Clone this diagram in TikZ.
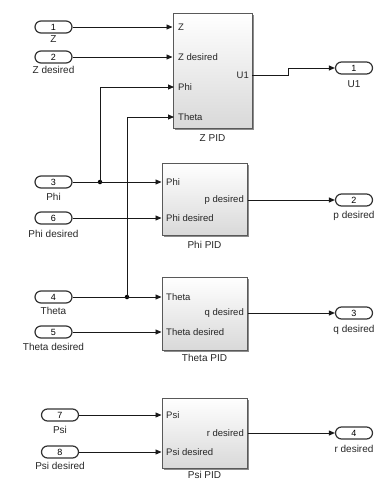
\documentclass[tikz,border=0pt]{standalone}
\usepackage{fontspec}
\setmainfont{Liberation Sans}
\usetikzlibrary{arrows.meta}
\begin{document}
\begin{tikzpicture}[x=1pt,y=-1pt,
  port/.style={draw=black!80, line width=1.2pt, rounded corners=6pt, minimum width=37pt, minimum height=12pt, inner sep=0pt, font=\fontsize{9}{9}\selectfont, fill=white},
  lbl/.style={font=\fontsize{10}{10}\selectfont, inner sep=0pt, anchor=north, text=black!85},
  plbl/.style={font=\fontsize{9.5}{10}\selectfont, inner sep=0pt, text=black!85},
  blk/.style={draw=black!65, line width=1pt, top color=white, bottom color=black!15, inner sep=0pt},
  sh/.style={fill=black!45, draw=none},
  arr/.style={draw=black!90, line width=0.9pt, -{Triangle[length=6pt,width=5pt]}},
  dot/.style={circle, fill=black, inner sep=0pt, minimum size=4.5pt}
]
\useasboundingbox (0,0) rectangle (380,480);

% blocks (shadows then bodies)
\fill[sh] (175,15) rectangle (254,130);
\fill[sh] (164,165) rectangle (249,237);
\fill[sh] (164,279) rectangle (249,352);
\fill[sh] (164,400) rectangle (249,470);
\node[blk, minimum width=79pt, minimum height=115pt] (zpid) at (212.5,70.5) {};
\node[blk, minimum width=85pt, minimum height=72pt] (phipid) at (204.5,199) {};
\node[blk, minimum width=85pt, minimum height=73pt] (thetapid) at (204.5,313.5) {};
\node[blk, minimum width=85pt, minimum height=70pt] (psipid) at (204.5,433) {};

\node[lbl] at (212.5,134) {Z PID};
\node[lbl] at (204.5,241) {Phi PID};
\node[lbl] at (204.5,354) {Theta PID};
\node[lbl, anchor=base] at (204.5,478.5) {Psi PID};

% port labels inside blocks
\node[plbl, anchor=west] at (178,27) {Z};
\node[plbl, anchor=west] at (178,57) {Z desired};
\node[plbl, anchor=west] at (178,87) {Phi};
\node[plbl, anchor=west] at (178,117) {Theta};
\node[plbl, anchor=east] at (249,75) {U1};
\node[plbl, anchor=west] at (166,182) {Phi};
\node[plbl, anchor=west] at (166,218) {Phi desired};
\node[plbl, anchor=east] at (244,200) {p desired};
\node[plbl, anchor=west] at (166,297) {Theta};
\node[plbl, anchor=west] at (166,332) {Theta desired};
\node[plbl, anchor=east] at (244,313) {q desired};
\node[plbl, anchor=west] at (166,415) {Psi};
\node[plbl, anchor=west] at (166,452) {Psi desired};
\node[plbl, anchor=east] at (244,433) {r desired};

% inports
\node[port] (in1) at (53.5,27) {1};
\node[lbl] at (53.5,35) {Z};
\node[port] (in2) at (53.5,57) {2};
\node[lbl] at (53.5,66) {Z desired};
\node[port] (in3) at (53.5,182) {3};
\node[lbl] at (53.5,193) {Phi};
\node[port] (in6) at (53.5,218) {6};
\node[lbl] at (53.5,230) {Phi desired};
\node[port] (in4) at (53.5,297) {4};
\node[lbl] at (53.5,307) {Theta};
\node[port] (in5) at (53.5,332) {5};
\node[lbl] at (53.5,343) {Theta desired};
\node[port] (in7) at (60,415) {7};
\node[lbl] at (60,426) {Psi};
\node[port] (in8) at (60,452) {8};
\node[lbl] at (60,462) {Psi desired};

% outports
\node[port] (out1) at (354,68) {1};
\node[lbl] at (354,80) {U1};
\node[port] (out2) at (354,200) {2};
\node[lbl] at (354,211) {p desired};
\node[port] (out3) at (354,313) {3};
\node[lbl] at (354,325) {q desired};
\node[port] (out4) at (354,433) {4};
\node[lbl] at (354,445) {r desired};

% coordinates
\coordinate (zphi) at (174,87);
\coordinate (ztheta) at (174,117);
\coordinate (zu1) at (252,75);
\coordinate (bend) at (288,75);
\node[dot] (j1) at (100,182) {};
\node[dot] (j2) at (127,297) {};

% connectors
\draw[arr] (in1) -- (in1 -| zpid.west);
\draw[arr] (in2) -- (in2 -| zpid.west);
\draw[arr] (in3) -- (in3 -| phipid.west);
\draw[arr] (in6) -- (in6 -| phipid.west);
\draw[arr] (in4) -- (in4 -| thetapid.west);
\draw[arr] (in5) -- (in5 -| thetapid.west);
\draw[arr] (in7) -- (in7 -| psipid.west);
\draw[arr] (in8) -- (in8 -| psipid.west);
\draw[arr] (j1.center) |- (zphi);
\draw[arr] (j2.center) |- (ztheta);
\draw[arr] (zu1) -- (bend) |- (out1);
\draw[arr] (out2 -| phipid.east) -- (out2);
\draw[arr] (out3 -| thetapid.east) -- (out3);
\draw[arr] (out4 -| psipid.east) -- (out4);
\end{tikzpicture}
\end{document}
